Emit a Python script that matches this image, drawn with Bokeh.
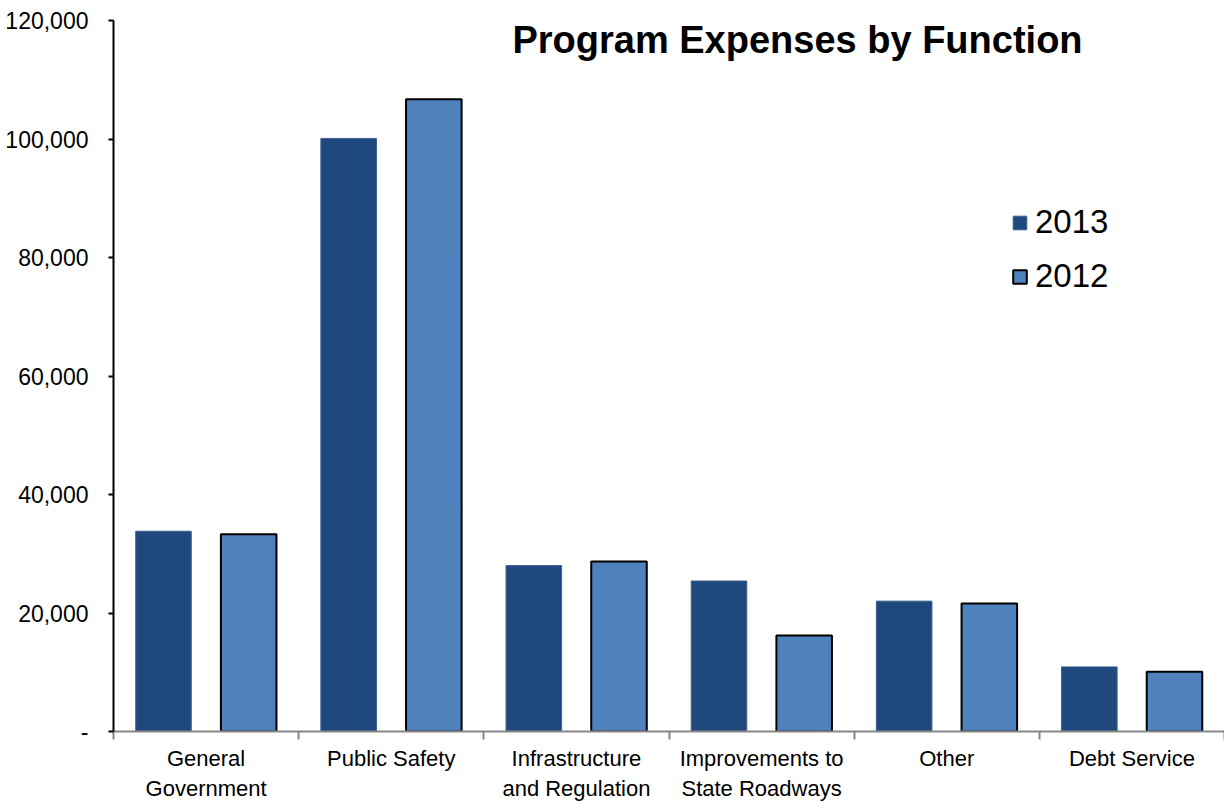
from bokeh.plotting import figure
from bokeh.models import (Range1d, FixedTicker, NumeralTickFormatter, Legend, LegendItem,
                          Label, ColumnDataSource)
from bokeh.transform import dodge
from bokeh.embed import file_html
from bokeh.resources import INLINE

categories = ["General\nGovernment", "Public Safety", "Infrastructure\nand Regulation",
              "Improvements to\nState Roadways", "Other", "Debt Service"]
values_2013 = [33800, 100100, 28000, 25400, 22000, 10900]
values_2012 = [33300, 106700, 28700, 16200, 21600, 10100]
y_ticks = [0, 20000, 40000, 60000, 80000, 100000, 120000]

xpos = [i + 0.5 for i in range(len(categories))]
src = ColumnDataSource(dict(x=xpos, v13=values_2013, v12=values_2012))

FONT = "Liberation Sans"
p = figure(width=1224, height=803, output_backend="svg", toolbar_location=None,
           x_range=Range1d(0, 6), y_range=Range1d(0, 120000),
           min_border_left=113, min_border_right=0, min_border_top=20, min_border_bottom=70)
p.outline_line_color = None
p.xgrid.grid_line_color = None
p.ygrid.grid_line_color = None
p.background_fill_color = "white"

r13 = p.vbar(x=dodge("x", -0.23, range=p.x_range), top="v13", width=0.3, source=src,
             fill_color="#1F497D", line_color="#3C5F8F", line_width=1)
r12 = p.vbar(x=dodge("x", 0.23, range=p.x_range), top="v12", width=0.3, source=src,
             fill_color="#4F81BD", line_color="black", line_width=2)

# x axis
xa = p.xaxis[0]
xa.ticker = FixedTicker(ticks=xpos, minor_ticks=list(range(len(categories) + 1)))
xa.major_label_overrides = {x: c for x, c in zip(xpos, categories)}
xa.major_tick_out = 0
xa.major_tick_in = 0
xa.minor_tick_out = 8
xa.minor_tick_in = 0
xa.minor_tick_line_color = "#888888"
xa.minor_tick_line_width = 2
xa.axis_line_color = "#888888"
xa.axis_line_width = 2
xa.major_label_text_font = FONT
xa.major_label_text_font_size = "22px"
xa.major_label_text_color = "black"
xa.major_label_standoff = 6

# y axis
ya = p.yaxis[0]
ya.ticker = FixedTicker(ticks=y_ticks)
ya.formatter = NumeralTickFormatter(format="0,0")
ya.major_label_overrides = {0: "-"}
ya.axis_line_color = "black"
ya.axis_line_width = 2
ya.major_tick_out = 5
ya.major_tick_in = 0
ya.major_tick_line_color = "black"
ya.major_tick_line_width = 2
ya.minor_tick_out = 0
ya.minor_tick_in = 0
ya.major_label_text_font = FONT
ya.major_label_text_font_size = "23px"
ya.major_label_text_color = "black"
ya.major_label_standoff = 20

title = Label(x=684, y=692, x_units="screen", y_units="screen", text="Program Expenses by Function",
              text_font=FONT, text_font_style="bold", text_font_size="38px",
              text_align="center", text_baseline="middle", text_color="black")
p.add_layout(title)

legend = Legend(items=[LegendItem(label="2013", renderers=[r13]),
                       LegendItem(label="2012", renderers=[r12])],
                location=(898, 436), label_text_font=FONT, label_text_font_size="33px",
                label_text_color="black",
                glyph_width=17, glyph_height=17, spacing=16, padding=0, margin=0,
                border_line_color=None, background_fill_alpha=0, label_standoff=7)
p.add_layout(legend)

open("out.html", "w").write(file_html(p, INLINE))
